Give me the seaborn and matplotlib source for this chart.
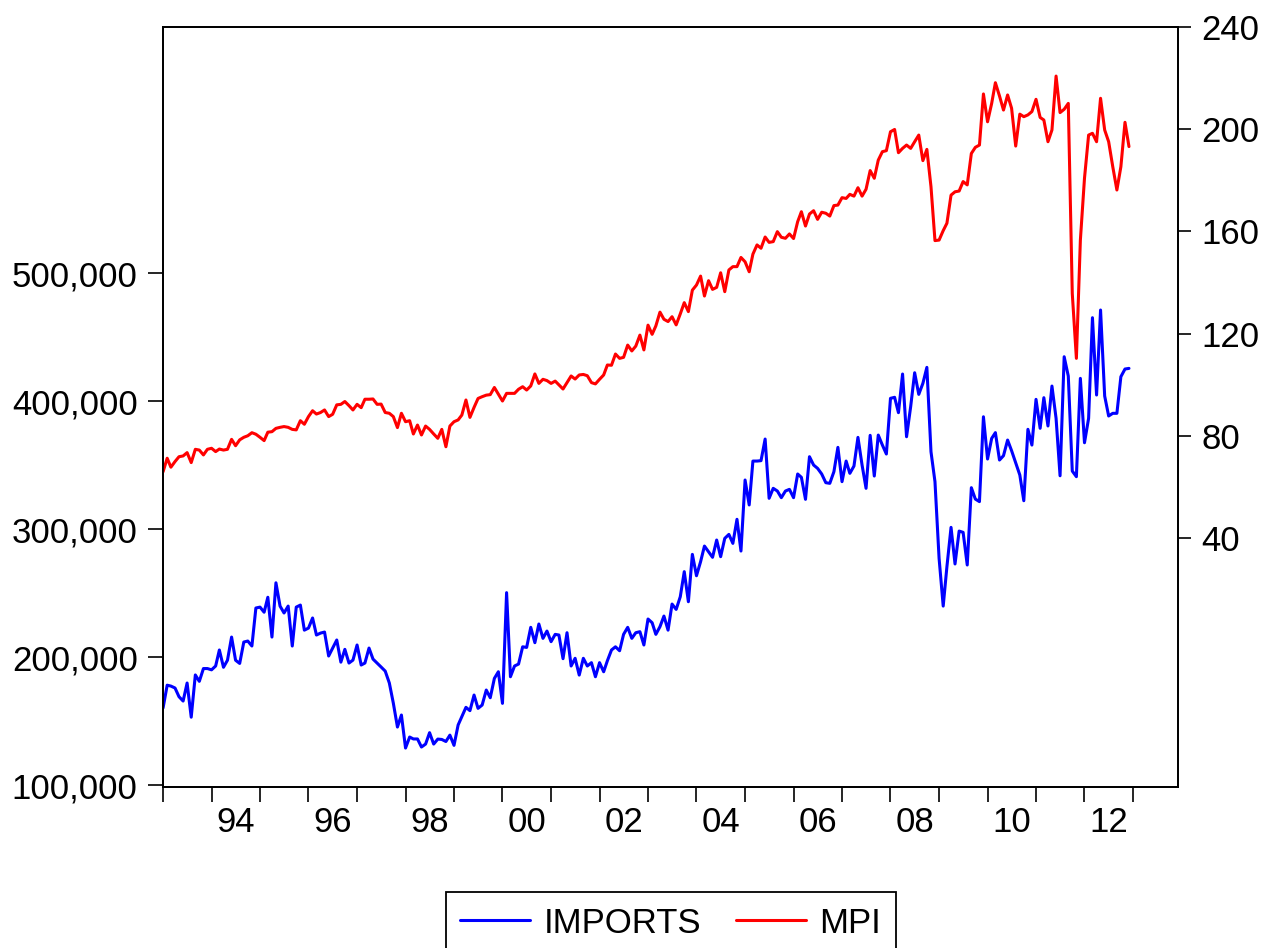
import pandas as pd
import numpy as np
import matplotlib
matplotlib.use("Agg")
import matplotlib.pyplot as plt
import matplotlib.dates as mdates
import matplotlib.ticker as mticker
import seaborn as sns

# Monthly series, 1993M01 - 2012M12 (one row per year)
imports = [
    160200, 178000, 177300, 175800, 169000, 165600, 179700, 153000, 186000, 181000, 191000, 191000,
    190000, 193000, 205500, 192000, 197500, 215600, 197500, 195000, 211700, 212500, 208600, 238300,
    239000, 235000, 246700, 215600, 258000, 239800, 234400, 239800, 208600, 239000, 240600, 221000,
    222600, 230500, 217200, 218700, 219500, 200800, 207000, 213300, 196000, 206000, 195300, 197600,
    209400, 193750, 195300, 207000, 198400, 195300, 192200, 189000, 179700, 164000, 145300, 154700,
    128900, 137500, 136000, 136000, 129700, 132000, 140900, 132000, 135900, 135600, 134000, 139000,
    131000, 146900, 153400, 160700, 158100, 170300, 159900, 162500, 174200, 168200, 183300, 188500,
    163800, 250300, 184600, 193000, 194500, 208000, 207500, 223200, 211200, 225800, 214600, 220300,
    212000, 217700, 217200, 198700, 219000, 193000, 199000, 185900, 199000, 193000, 195600, 184600,
    195600, 188500, 197100, 205500, 208000, 204900, 217700, 223200, 214600, 219000, 219800, 209400,
    229700, 226800, 217700, 223700, 232000, 221000, 241400, 237200, 247100, 266700, 243200, 280200,
    263500, 274500, 286700, 282300, 277900, 291400, 278400, 292700, 295800, 288800, 307600, 282800,
    338300, 318800, 353100, 353100, 353400, 370300, 324000, 331800, 329700, 324500, 329700, 331000,
    324500, 343000, 340400, 323200, 356500, 350000, 347400, 343000, 336200, 335700, 344800, 363800,
    337000, 353100, 343500, 349200, 371600, 350000, 331800, 373200, 341400, 373400, 365600, 358600,
    402100, 402900, 390900, 421100, 372100, 395600, 422100, 405200, 413800, 426300, 360400, 337000,
    277100, 239800, 270600, 301300, 272700, 298400, 297400, 271900, 332300, 323400, 321400, 387700,
    354700, 370800, 375300, 353900, 357300, 369500, 361200, 351800, 342200, 322100, 377900, 365600,
    401300, 378700, 402600, 380500, 411700, 386500, 341600, 434600, 419500, 345300, 340900, 417700,
    367400, 386500, 465100, 404700, 471100, 403900, 388300, 390400, 390400, 419000, 425000, 425500,
]

mpi = [
    65.9, 71.2, 67.7, 69.9, 71.8, 72.1, 73.4, 69.5, 74.7, 74.4, 72.5, 74.7,
    75.1, 73.8, 74.8, 74.4, 74.7, 78.6, 76.1, 78.4, 79.4, 80.0, 81.2, 80.6,
    79.4, 78.1, 81.4, 81.6, 82.9, 83.3, 83.6, 83.3, 82.5, 82.3, 85.9, 84.5,
    87.5, 89.8, 88.5, 89.1, 90.1, 87.5, 88.4, 92.1, 92.3, 93.4, 91.8, 90.1,
    92.3, 91.0, 94.3, 94.3, 94.4, 92.3, 92.4, 89.1, 88.8, 87.5, 83.2, 88.8,
    85.5, 85.9, 80.7, 84.2, 80.3, 83.8, 82.5, 80.7, 79.0, 82.5, 75.7, 83.8,
    85.5, 86.2, 88.1, 94.0, 87.2, 91.1, 94.6, 95.3, 95.9, 96.1, 98.9, 96.3,
    93.6, 96.6, 96.6, 96.6, 98.2, 99.2, 97.9, 99.5, 104.2, 100.5, 102.1, 101.6,
    100.5, 101.4, 99.9, 98.3, 100.8, 103.4, 102.2, 103.8, 104.0, 103.5, 100.8, 100.3,
    102.1, 103.8, 107.7, 107.6, 112.0, 110.3, 110.7, 115.5, 113.2, 115.1, 119.4, 113.6,
    123.3, 119.7, 123.0, 128.4, 125.6, 124.7, 126.6, 123.4, 127.7, 132.1, 128.6, 137.0,
    139.0, 142.5, 134.7, 140.7, 137.3, 138.1, 143.8, 136.4, 144.9, 146.2, 146.2, 149.8,
    148.1, 144.2, 151.1, 154.7, 153.4, 157.8, 155.7, 156.0, 159.9, 157.7, 157.3, 159.0,
    157.2, 163.8, 167.7, 162.1, 166.8, 168.1, 164.7, 167.5, 167.1, 166.0, 170.1, 170.3,
    173.2, 172.9, 174.5, 173.8, 177.1, 173.8, 176.5, 183.8, 180.8, 187.9, 191.2, 191.6,
    199.0, 199.9, 190.8, 192.5, 193.8, 192.5, 195.1, 197.7, 187.7, 192.1, 177.5, 156.4,
    156.6, 160.3, 163.2, 174.2, 175.5, 175.8, 179.5, 178.2, 190.5, 192.9, 193.8, 213.8,
    202.9, 210.1, 218.2, 213.0, 207.5, 213.4, 208.2, 193.4, 205.9, 204.9, 205.6, 206.9,
    211.7, 204.6, 203.6, 195.1, 199.7, 220.8, 206.5, 207.8, 210.1, 135.7, 110.3, 156.6,
    180.8, 197.7, 198.4, 195.1, 212.1, 199.7, 195.1, 185.3, 176.2, 185.3, 202.7, 193.2,
]

left_ticks = [100000, 200000, 300000, 400000, 500000]
right_ticks = [40, 80, 120, 160, 200, 240]

df = pd.DataFrame({
    "date": pd.date_range("1993-01-01", periods=len(imports), freq="MS"),
    "IMPORTS": imports,
    "MPI": mpi,
})

sns.set_style("white")
plt.rcParams["font.family"] = ["Liberation Sans", "DejaVu Sans"]
plt.rcParams["text.color"] = "black"
plt.rcParams["xtick.color"] = "black"
plt.rcParams["ytick.color"] = "black"
plt.rcParams["axes.labelcolor"] = "black"
FS = 25

fig, ax = plt.subplots(figsize=(12.68, 9.48), dpi=100)
fig.subplots_adjust(left=0.1286, right=0.929, bottom=0.1698, top=0.9715)

sns.lineplot(data=df, x="date", y="IMPORTS", ax=ax, color="#0000ff", linewidth=2.2, legend=False)
ax2 = ax.twinx()
sns.lineplot(data=df, x="date", y="MPI", ax=ax2, color="#ff0000", linewidth=2.2, legend=False)

# x axis: ticks at every January, labels at mid-year of even years
ax.set_xlim(pd.Timestamp("1993-01-01"), pd.Timestamp("2013-12-05"))
ax.xaxis.set_major_locator(mdates.YearLocator(1))
ax.xaxis.set_major_formatter(mticker.NullFormatter())
ax.xaxis.set_minor_locator(mdates.YearLocator(2, month=7, day=1))
ax.xaxis.set_minor_formatter(mdates.DateFormatter("%y"))
ax.tick_params(axis="x", which="major", direction="out", length=10.8, width=1.2,
               color="black", bottom=True)
ax.tick_params(axis="x", which="minor", length=0, pad=13.5, labelsize=FS,
               labelcolor="black", bottom=True)

ax.set_ylim(98440, 692190)
ax.set_yticks(left_ticks)
ax.yaxis.set_major_formatter(mticker.StrMethodFormatter("{x:,.0f}"))
ax.tick_params(axis="y", direction="out", length=10.8, width=1.2, pad=7.5, labelsize=FS,
               left=True, labelcolor="black")

ax2.set_ylim(-57.5, 240)
ax2.set_yticks(right_ticks)
ax2.tick_params(axis="y", direction="out", length=9.5, width=1.2, pad=7.5, labelsize=FS,
                right=True, labelcolor="black")

for a in (ax, ax2):
    a.set_xlabel("")
    a.set_ylabel("")
    for s in a.spines.values():
        s.set_visible(True)
        s.set_color("black")
        s.set_linewidth(1.3)

handles = [ax.get_lines()[0], ax2.get_lines()[0]]
leg = fig.legend(handles, ["IMPORTS", "MPI"], loc="upper center", bbox_to_anchor=(0.529, 0.0591),
                 ncol=2, fontsize=FS, frameon=True, fancybox=False, edgecolor="black",
                 handlelength=2.0, handletextpad=0.4, columnspacing=1.0, borderpad=0.42,
                 borderaxespad=0, framealpha=1)
leg.get_frame().set_linewidth(1.3)

fig.savefig("out.png", dpi=100)
